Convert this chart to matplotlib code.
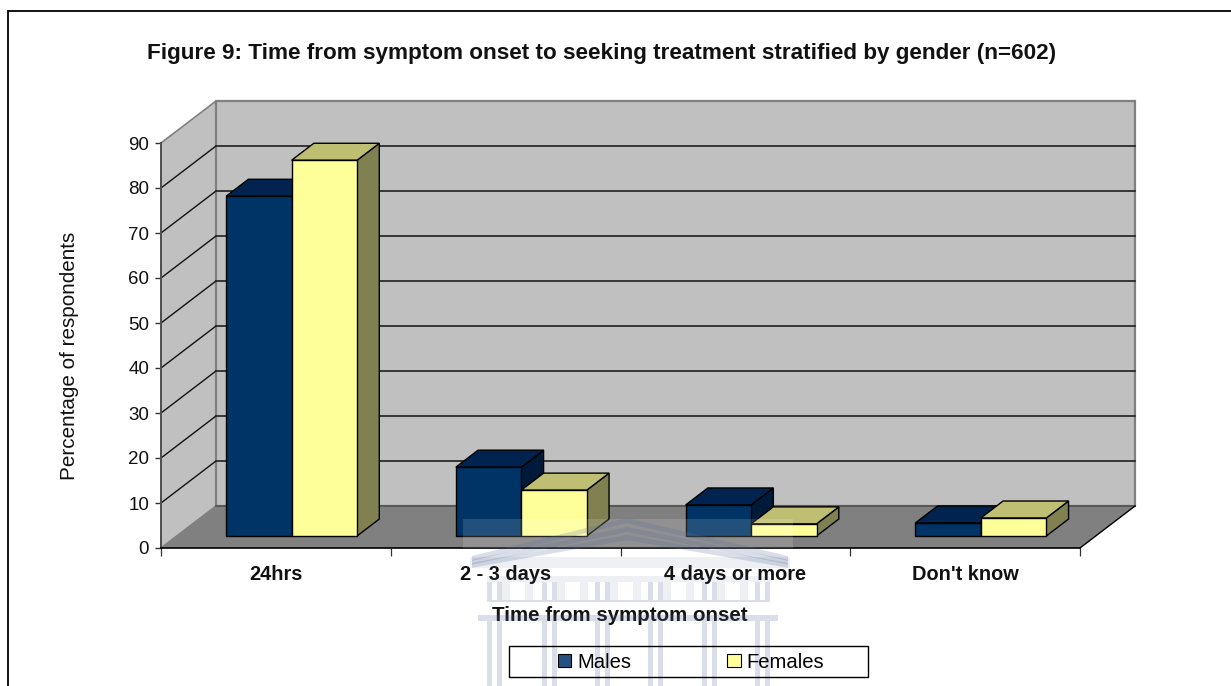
import matplotlib
matplotlib.use("Agg")
import matplotlib.pyplot as plt
from matplotlib.patches import Polygon, Rectangle

categories = ["24hrs", "2 - 3 days", "4 days or more", "Don't know"]
males = [75.5, 15.3, 6.9, 2.9]
females = [83.5, 10.2, 2.7, 4.0]
y_ticks = list(range(0, 100, 10))

plt.rcParams["font.family"] = ["Liberation Sans", "DejaVu Sans"]
W, H = 1231, 686
fig = plt.figure(figsize=(W / 100, H / 100), dpi=100, facecolor="white")
ax = fig.add_axes([161 / W, 1 - 548 / H, 919 / W, 405 / H])
ax.set_xlim(0, 4)
ax.set_ylim(0, 90)
ax.patch.set_visible(False)

# oblique projection: depth 0..1 shifts x and y in data units
DX, DY = 55 / 229.75, 42 / 4.5


def P(x, y, d=0.0):
    return (x + d * DX, y + d * DY)


def poly(pts, fc, ec="none", lw=0.0, z=1):
    ax.add_patch(Polygon(pts, closed=True, facecolor=fc, edgecolor=ec,
                         linewidth=lw, zorder=z, clip_on=False, joinstyle="miter"))


# walls and floor
poly([P(0, 0), P(0, 90), P(0, 90, 1), P(0, 0, 1)], "#C0C0C0", "#808080", 1.2)
poly([P(0, 0, 1), P(0, 90, 1), P(4, 90, 1), P(4, 0, 1)], "#C0C0C0", "#808080", 1.6)
poly([P(0, 0), P(4, 0), P(4, 0, 1), P(0, 0, 1)], "#808080", z=1.2)
for v in y_ticks[:-1]:
    col = "#505050" if v == 0 else "#202020"
    if v > 0:
        ax.plot(*zip(P(0, v), P(0, v, 1)), color="#111111", lw=1.0, zorder=1.3, clip_on=False)
    ax.plot(*zip(P(0, v, 1), P(4, v, 1)), color=col, lw=1.2, zorder=1.3, clip_on=False)
ax.plot(*zip(P(4, 0), P(4, 0, 1)), color="black", lw=1.0, zorder=1.3, clip_on=False)

# bars
D0, D1 = 0.286, 0.69
BW = 0.285


def bar3d(x0, v, front, top, side, z):
    x1 = x0 + BW
    e = dict(ec="black", lw=1.0, z=z)
    poly([P(x1, 0, D0), P(x1, v, D0), P(x1, v, D1), P(x1, 0, D1)], side, **e)
    poly([P(x0, v, D0), P(x1, v, D0), P(x1, v, D1), P(x0, v, D1)], top, **e)
    poly([P(x0, 0, D0), P(x1, 0, D0), P(x1, v, D0), P(x0, v, D0)], front, **e)


for i, (m, f) in enumerate(zip(males, females)):
    bar3d(i + 0.5 - BW, m, "#003366", "#002350", "#001B3A", 2 + i * 0.1)
    bar3d(i + 0.5, f, "#FFFF99", "#BFBF73", "#808050", 2.05 + i * 0.1)

# axes
for s in ("top", "right"):
    ax.spines[s].set_visible(False)
ax.spines["left"].set_color("#505050")
ax.spines["left"].set_linewidth(1.4)
ax.spines["bottom"].set_color("black")
ax.spines["bottom"].set_linewidth(1.2)
ax.spines["bottom"].set_zorder(3)
ax.set_yticks(y_ticks)
ax.tick_params(axis="y", length=4.5, width=1, color="#333333", labelsize=13.5, pad=4, labelcolor="#111111")
ax.set_xticks(range(5))
ax.set_xticklabels([])
ax.tick_params(axis="x", which="major", length=5.5, width=0.9, color="#333333")
ax.set_xticks([i + 0.5 for i in range(4)], minor=True)
ax.set_xticklabels(categories, minor=True, fontweight="bold", fontsize=14.4, color="#111111")
ax.tick_params(axis="x", which="minor", length=0, pad=12)
ax.set_ylabel("Percentage of respondents", fontsize=14.9, color="#111111")
ax.yaxis.set_label_coords((79 - 161) / 919, (548 - 356) / 405)
ax.set_xlabel("Time from symptom onset", fontweight="bold", fontsize=14.8, color="#111111")
ax.xaxis.set_label_coords((620 - 161) / 919, (548 - 606) / 405)

fig.text(602 / W, 1 - 53 / H, "Figure 9: Time from symptom onset to seeking treatment stratified by gender (n=602)",
         ha="center", va="center", fontweight="bold", fontsize=16.2, color="#111111")

# pixel-space overlay: page border and watermark
ov = fig.add_axes([0, 0, 1, 1], zorder=5)
ov.set_xlim(0, W)
ov.set_ylim(H, 0)
ov.axis("off")
ov.plot([8, 8, W], [H, 11, 11], color="black", lw=1.3, solid_joinstyle="miter")
ov.add_patch(Rectangle((463, 519), 330, 29, facecolor="white", alpha=0.14, lw=0))
wm = dict(facecolor="#5A6C9A", alpha=0.22, lw=0)
pale = dict(facecolor="#5A6C9A", alpha=0.1, lw=0)
for off in (0, 9, 17):
    ov.add_patch(Polygon([(627, 518 + off), (788, 556 + off * .4), (788, 561 + off * .4),
                          (627, 523 + off), (472, 561 + off * .4), (472, 556 + off * .4)], **wm))
ov.add_patch(Rectangle((470, 557), 320, 11, **pale))
ov.add_patch(Rectangle((487, 576), 283, 6, **pale))
ov.add_patch(Rectangle((478, 615), 300, 6, **wm))
ov.add_patch(Rectangle((487, 600), 283, 2, **wm))
for cx in (487, 542, 595, 648, 702, 755):
    for sx in (cx, cx + 10):
        ov.add_patch(Rectangle((sx, 582), 5, 18, **wm))
        ov.add_patch(Rectangle((sx, 621), 5, 65, **wm))
    if cx < 755:
        ov.add_patch(Rectangle((cx + 15, 582), 8, 18, **pale))
        ov.add_patch(Rectangle((cx + 38, 582), 8, 18, **pale))

# legend
ov.add_patch(Rectangle((509, 645.5), 359, 31.5, facecolor="none", edgecolor="black", lw=1.0))
handles = [Rectangle((0, 0), 1, 1, facecolor="#26517F", edgecolor="black", lw=0.8),
           Rectangle((0, 0), 1, 1, facecolor="#FFFF99", edgecolor="black", lw=0.8)]
leg = ov.legend(handles, ["Males", "Females"], ncol=2, loc="center",
                bbox_to_anchor=(691 / W, 1 - 662 / H), fontsize=14.6, frameon=False,
                borderpad=0, handlelength=0.65, handleheight=0.65, handletextpad=0.3,
                columnspacing=4.75, borderaxespad=0)

fig.savefig("out.png", dpi=100)
